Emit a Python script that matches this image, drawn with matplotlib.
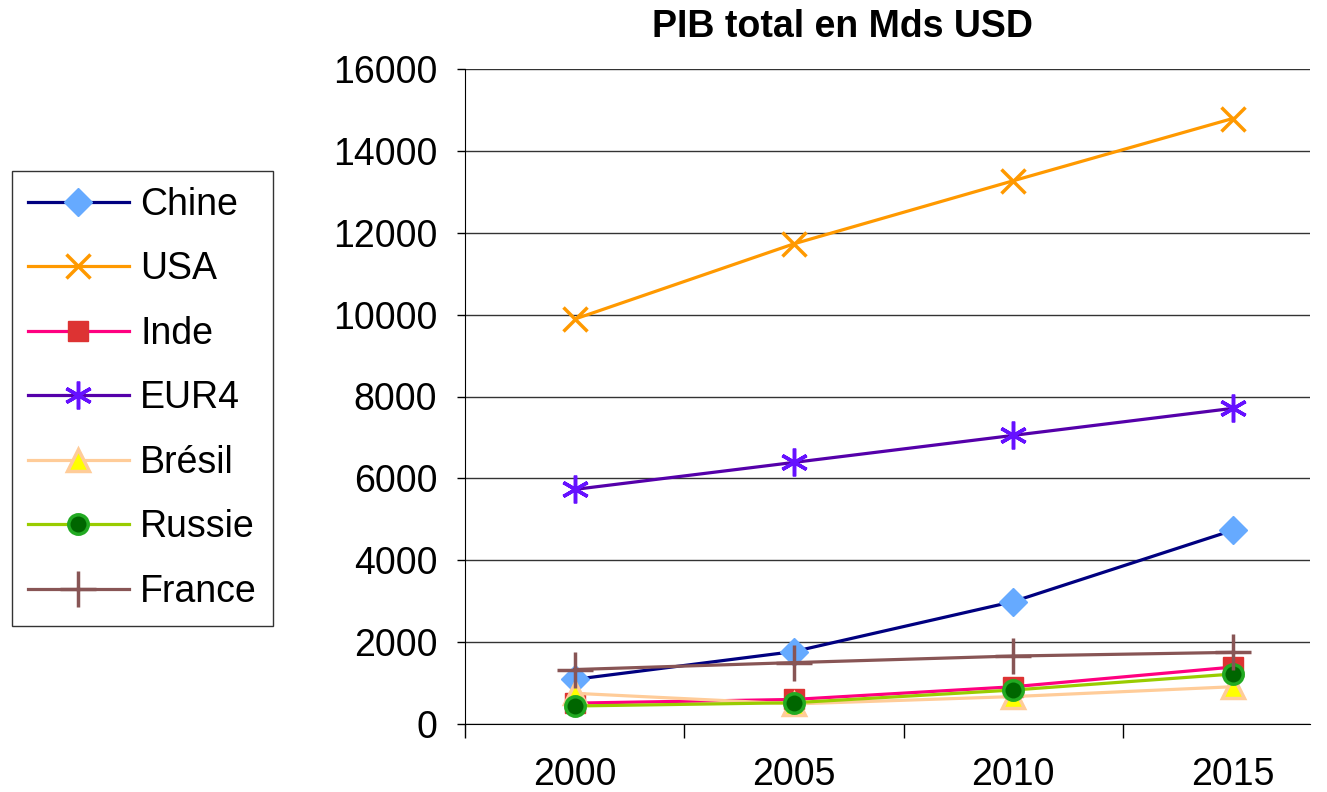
import numpy as np
import matplotlib.pyplot as plt

plt.rcParams['font.family'] = ['Liberation Sans', 'DejaVu Sans']

years = ['2000', '2005', '2010', '2015']
chine = [1090, 1770, 2990, 4730]
usa = [9890, 11730, 13270, 14790]
inde = [510, 600, 910, 1390]
eur4 = [5730, 6390, 7050, 7710]
bresil = [750, 490, 670, 910]
russie = [440, 520, 830, 1220]
france = [1330, 1500, 1660, 1750]

fig = plt.figure(figsize=(13.27, 7.92), dpi=100)
ax = fig.add_axes([465 / 1327, 1 - 724 / 792, 845 / 1327, 655 / 792])

x = np.arange(len(years))
lw = 2.3
ax.plot(x, chine, color='#000080', lw=lw, marker='D', ms=14, mfc='#66AAFF', mec='#66AAFF', label='Chine')
ax.plot(x, usa, color='#FF9900', lw=lw, marker='x', ms=17, mew=2.5, label='USA')
ax.plot(x, inde, color='#FF0080', lw=lw, marker='s', ms=15, mfc='#DD3333', mec='#DD3333', label='Inde')
ax.plot(x, eur4, color='#5500AA', lw=lw, marker=(6, 2, 0), ms=20, mew=2.5, mec='#6611FF', label='EUR4')
ax.plot(x, bresil, color='#FFCC99', lw=lw, marker='^', ms=16, mfc='#FFFF00', mec='#FFCC99', mew=2.5, label='Brésil')
ax.plot(x, russie, color='#99CC00', lw=lw, marker='o', ms=14, mfc='#006600', mec='#22AA22', mew=2.5, label='Russie')
ax.plot(x, france, color='#885555', lw=lw, marker='+', ms=26, mew=2.5, label='France')

ax.set_ylim(0, 16000)
ax.set_yticks(np.arange(0, 16001, 2000))
ax.set_xlim(-0.5, -0.5 + 845 / 219.3)
ax.set_xticks(x)
ax.set_xticklabels(years)
ax.set_xticks(np.arange(-0.5, 3.0, 1.0), minor=True)
ax.tick_params(axis='x', which='major', length=0, pad=24, labelsize=27)
ax.tick_params(axis='x', which='minor', length=10, width=1, direction='out')
ax.tick_params(axis='y', length=6, width=1, pad=14, labelsize=27)
ax.grid(axis='y', color='#333333', lw=1)
ax.set_axisbelow(True)
ax.spines['top'].set_visible(False)
ax.spines['right'].set_visible(False)

fig.text(842 / 1327, 1 - 27 / 792, 'PIB total en Mds USD', ha='center', va='center',
         fontsize=27, fontweight='bold')

leg = fig.legend(loc='upper left', bbox_to_anchor=(12 / 1327, 1 - 171 / 792), fontsize=27,
                 numpoints=1, frameon=True, fancybox=False, edgecolor='black',
                 handlelength=2.7, handletextpad=0.3, labelspacing=0.76, borderpad=0.42,
                 borderaxespad=0)
leg.get_frame().set_linewidth(1)

fig.savefig('out.png', dpi=100)
